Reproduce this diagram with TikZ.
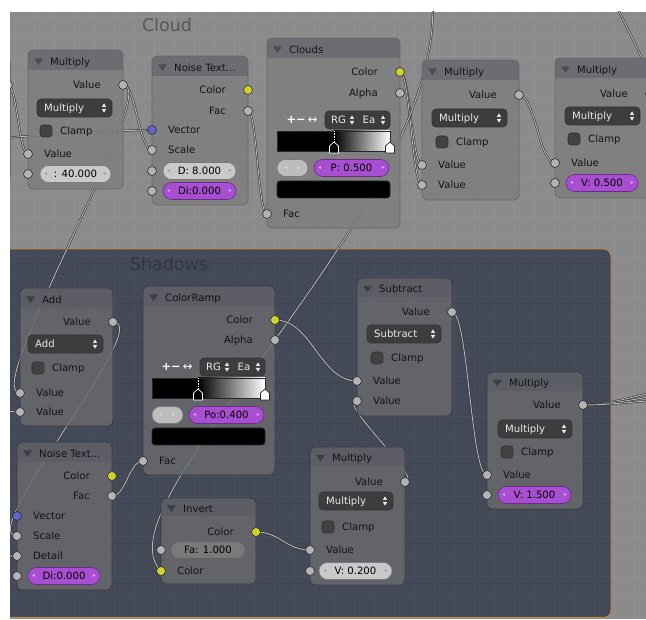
\documentclass[tikz,border=0pt]{standalone}
\usepackage{fontspec}
\setmainfont{DejaVu Sans}
\usetikzlibrary{fit,calc}
\pgfdeclarelayer{frames}
\pgfdeclarelayer{links}
\pgfsetlayers{frames,links,main}

\definecolor{cloudbg}{HTML}{8B8B8B}
\definecolor{cloudgrid}{HTML}{919191}
\definecolor{shadowbg}{HTML}{434956}
\definecolor{shadowgrid}{HTML}{49505C}
\definecolor{frameedge}{HTML}{BC8A4C}
\definecolor{cloudlabel}{HTML}{575757}
\definecolor{shadowlabel}{HTML}{323741}
\definecolor{cbody}{HTML}{7E7E7E}
\definecolor{chdr}{HTML}{6C6D73}
\definecolor{cedge}{HTML}{676767}
\definecolor{ctri}{HTML}{4D4D52}
\definecolor{sbody}{HTML}{6B6B6E}
\definecolor{shdr}{HTML}{5D5E65}
\definecolor{sedge}{HTML}{393C44}
\definecolor{stri}{HTML}{3E3F45}
\definecolor{ddfill}{HTML}{3D3D3D}
\definecolor{ddtextc}{HTML}{EAEAEA}
\definecolor{chkfill}{HTML}{424242}
\definecolor{fieldlight}{HTML}{C9C9C9}
\definecolor{fieldgray}{HTML}{BDBDBD}
\definecolor{fieldslide}{HTML}{7A7A7C}
\definecolor{fieldpurple}{HTML}{A84ED0}
\definecolor{purpleedge}{HTML}{6A2C88}
\definecolor{sockgray}{HTML}{B3B3B3}
\definecolor{sockyellow}{HTML}{D0D02C}
\definecolor{sockblue}{HTML}{6363CA}
\definecolor{sockedge}{HTML}{2E2E2E}
\definecolor{linkdark}{HTML}{323232}
\definecolor{linklight}{HTML}{B8B8B8}
\definecolor{labeltext}{HTML}{131313}

\tikzset{
  lbl/.style={inner sep=0pt, text height=7.2pt, text depth=0pt,
    font=\fontsize{10.1}{12}\selectfont},
  ntext/.style={lbl, text=labeltext},
  ddtext/.style={lbl, text=ddtextc},
  ftext/.style={lbl, text=black},
  farrowL/.style={inner sep=0pt, font=\fontsize{6}{7}\selectfont, text=black!38},
  farrowP/.style={inner sep=0pt, font=\fontsize{6}{7}\selectfont, text=fieldpurple!45!white},
  farrowG/.style={inner sep=0pt, font=\fontsize{6}{7}\selectfont, text=white!85!black},
  fieldL/.style={fill=fieldlight, draw=black!52, line width=.6pt, rounded corners=8.5pt},
  fieldP/.style={fill=fieldpurple, draw=purpleedge, line width=.6pt, rounded corners=8.5pt},
  fieldG/.style={fill=fieldgray, draw=black!52, line width=.6pt, rounded corners=8.5pt},
  fieldS/.style={fill=fieldslide, draw=black!62, line width=.6pt, rounded corners=8.5pt},
  ddbox/.style={fill=ddfill, draw=black!80, line width=.6pt, rounded corners=4pt},
  ddsep/.style={draw=black!75, line width=.6pt},
  ddarrow/.style={fill=ddtextc},
  chk/.style={fill=chkfill, draw=black!80, line width=.6pt, rounded corners=3pt},
  baredge/.style={draw=black!85, line width=.6pt},
  swatch/.style={fill=black, draw=black!85, line width=.6pt, rounded corners=3pt},
  tooltext/.style={inner sep=0pt, text=white, font=\fontsize{11.5}{12}\selectfont},
  sock/.style={circle, draw=sockedge, line width=.6pt, minimum size=9pt, inner sep=0pt},
  framelabel/.style={inner sep=0pt, text height=12.8pt, text depth=0pt,
    font=\fontsize{17.5}{20}\selectfont},
  link/.style={draw=linkdark, line width=.55pt, double=linklight, double distance=.9pt},
  nbody/.style={fill=cbody, fill opacity=.8},
  nedge/.style={draw=cedge, line width=.8pt},
  nhdr/.style={fill=chdr},
  ntri/.style={fill=ctri},
}

% node frame: name, x1, y1, x2, y2, header bottom, title
\newcommand\bnode[7]{%
  \node[fit={(#2,#3)(#4,#5)}, inner sep=0pt] (#1) {};
  \path[nbody, rounded corners=5pt] (#2,#3) rectangle (#4,#5);
  \begin{scope}
    \clip[rounded corners=5pt] (#2,#3) rectangle (#4,#5);
    \fill[nhdr] (#2,#3) rectangle (#4,#6);
  \end{scope}
  \draw[nedge, rounded corners=5pt] (#2,#3) rectangle (#4,#5);
  \fill[ntri] ({#2+6},{(#3+#6)/2-1.5}) -- ({#2+15},{(#3+#6)/2-1.5}) -- ({#2+10.5},{(#3+#6)/2+5}) -- cycle;
  \node[ntext, anchor=west] (#1-title) at ({#2+22},{(#3+#6)/2+1.5}) {#7};
}
\newcommand\sockat[4]{\node[sock, fill=#4] (#1) at (#2,#3) {};}
\newcommand\outrow[5]{\node[ntext, anchor=east] (#1-l) at ({#2-22},#3) {#4};\sockat{#1}{#2}{#3}{#5}}
\newcommand\inrow[5]{\node[ntext, anchor=west] (#1-l) at ({#2+16},#3) {#4};\sockat{#1}{#2}{#3}{#5}}
\newcommand\updown[2]{%
  \fill[ddarrow] ({#1-2.2},{#2-1}) -- ({#1+2.2},{#2-1}) -- (#1,{#2-4.6}) -- cycle;
  \fill[ddarrow] ({#1-2.2},{#2+1}) -- ({#1+2.2},{#2+1}) -- (#1,{#2+4.6}) -- cycle;}
% dropdown: name, x1, x2, y, text
\newcommand\ddown[5]{%
  \node[ddbox, fit={(#2,{#4-9})(#3,{#4+9})}, inner sep=0pt] (#1) {};
  \node[ddtext, anchor=west] (#1-l) at ({#2+7},#4) {#5};
  \updown{#3-8}{#4}}
% checkbox: name, x, y
\newcommand\clampbox[3]{%
  \node[chk, fit={(#2,{#3-6})({#2+12},{#3+6})}, inner sep=0pt] (#1) {};
  \node[ntext, anchor=west] (#1-l) at ({#2+20},#3) {Clamp};}
% number field: name, x1, x2, y, kind (L/P), text
\newcommand\nfield[6]{%
  \node[field#5, fit={(#2,{#4-8.5})(#3,{#4+8.5})}, inner sep=0pt] (#1) {};
  \node[ftext] (#1-l) at ({(#2+#3)/2},#4) {#6};
  \node[farrow#5, anchor=west] (#1-a) at ({#2+4},#4) {◂};
  \node[farrow#5, anchor=east] (#1-b) at ({#3-4},#4) {▸};}
% slider field: name, x1, x2, y, text
\newcommand\sfield[5]{%
  \node[fieldS, fit={(#2,{#4-8.5})(#3,{#4+8.5})}, inner sep=0pt] (#1) {};
  \node[ftext] (#1-l) at ({(#2+#3)/2},#4) {#5};}
% colour ramp block: name, x1, x2, toolbar y, stop x, position text
\newcommand\rampw[6]{%
  \node[tooltext] (#1-tools) at ({#2+25},#4) {\textbf{+}\textbf{−}\,↔};
  \node[ddbox, fit={({#2+48},{#4-9})(#3,{#4+9})}, inner sep=0pt] (#1-mode) {};
  \draw[ddsep] ({(#2+48+#3)/2},{#4-9}) -- ({(#2+48+#3)/2},{#4+9});
  \node[ddtext, anchor=west] (#1-rg) at ({#2+54},#4) {RG};
  \updown{#2+75}{#4}
  \node[ddtext, anchor=west] (#1-ea) at ({(#2+48+#3)/2+5},#4) {Ea};
  \updown{#3-7}{#4}
  \fill[black] (#2,{#4+11}) rectangle (#5,{#4+31});
  \shade[left color=black, right color=white] (#5,{#4+11}) rectangle (#3,{#4+31});
  \node[baredge, fit={(#2,{#4+11})(#3,{#4+31})}, inner sep=0pt] (#1-bar) {};
  \draw[white, densely dotted, line width=.6pt] (#5,{#4+11}) -- (#5,{#4+23});
  \draw[fill=black, draw=white, line width=.7pt] ({#5-4.5},{#4+33}) -- ({#5-4.5},{#4+26}) -- (#5,{#4+22}) -- ({#5+4.5},{#4+26}) -- ({#5+4.5},{#4+33}) -- cycle;
  \draw[fill=white, draw=black!85, line width=.7pt] ({#3-4.5},{#4+33}) -- ({#3-4.5},{#4+26}) -- (#3,{#4+22}) -- ({#3+4.5},{#4+26}) -- ({#3+4.5},{#4+33}) -- cycle;
  \node[fieldG, fit={(#2,{#4+39.5})({#2+31},{#4+56.5})}, inner sep=0pt] (#1-g) {};
  \node[farrowG] (#1-ga) at ({#2+9},{#4+48}) {◂};
  \node[farrowG] (#1-gb) at ({#2+22},{#4+48}) {▸};
  \nfield{#1-p}{#2+37}{#3-1}{#4+48}{P}{#6}
  \node[swatch, fit={(#2,{#4+61})(#3,{#4+78})}, inner sep=0pt] (#1-swatch) {};}

\begin{document}
\begin{tikzpicture}[x=1pt, y=-1pt]
\useasboundingbox (0,0) rectangle (646,620);

% ---------- editor background and frames ----------
\begin{pgfonlayer}{frames}
  \fill[white] (0,0) rectangle (646,620);
  \begin{scope}
    \clip (10,12) rectangle (646,619);
    \fill[cloudbg] (10,12) rectangle (646,619);
    \foreach \gx in {14,34,...,646} \draw[cloudgrid, line width=.5pt] (\gx,12) -- (\gx,619);
    \foreach \gy in {16,36,...,619} \draw[cloudgrid, line width=.5pt] (10,\gy) -- (646,\gy);
    \fill[shadowbg, rounded corners=7pt] (-20,249) rectangle (611,617.5);
    \begin{scope}
      \clip[rounded corners=7pt] (-20,249) rectangle (611,617.5);
      \foreach \gx in {14,34,...,646} \draw[shadowgrid, line width=.5pt] (\gx,249) -- (\gx,619);
      \foreach \gy in {256,276,...,619} \draw[shadowgrid, line width=.5pt] (10,\gy) -- (646,\gy);
    \end{scope}
    \draw[frameedge, line width=1pt, rounded corners=7pt] (-20,249) rectangle (611,617.5);
    \node[framelabel, text=cloudlabel] (cloudtitle) at (167,25) {Cloud};
    \node[framelabel, text=shadowlabel] (shadowtitle) at (169,264) {Shadows};
  \end{scope}
\end{pgfonlayer}

% ---------- nodes ----------
\begin{scope}
\clip (10,12) rectangle (646,619);

\coordinate (offb) at (-150,146);
\coordinate (offc) at (-30,407);
\coordinate (offd) at (-30,553);
\coordinate (offe) at (428,-30);
\coordinate (offf) at (590,-30);
\coordinate (offg) at (700,160);
\coordinate (offh1) at (720,380);
\coordinate (offh2) at (720,388);
\coordinate (offh3) at (720,396);

% Cloud frame
\begin{scope}
\bnode{offn}{-90}{57}{10.5}{181}{77}{}
\sockat{offa}{8}{85}{sockgray}

\bnode{m1}{28}{50}{123}{189}{70}{Multiply}
\outrow{m1vo}{123}{85}{Value}{sockgray}
\ddown{m1dd}{37}{112}{108}{Multiply}
\clampbox{m1cb}{40}{131}
\inrow{m1vi}{28}{154}{Value}{sockgray}
\nfield{m1f}{40}{111}{174}{L}{: 40.000}
\sockat{m1fs}{28}{174}{sockgray}

\bnode{n1}{152}{56}{248}{205}{76}{Noise Text...}
\outrow{n1col}{248}{90}{Color}{sockyellow}
\outrow{n1fac}{248}{111}{Fac}{sockgray}
\inrow{n1vec}{152}{130}{Vector}{sockblue}
\inrow{n1sc}{152}{150}{Scale}{sockgray}
\nfield{n1d}{163}{236}{171}{L}{D: 8.000}
\sockat{n1ds}{152}{171}{sockgray}
\nfield{n1di}{163}{236}{191}{P}{Di:0.000}
\sockat{n1dis}{152}{191}{sockgray}

\bnode{cl}{267}{38}{400}{228}{58}{Clouds}
\outrow{clcol}{400}{72}{Color}{sockyellow}
\outrow{clalp}{400}{93}{Alpha}{sockgray}
\rampw{clr}{277}{390}{120}{334}{P: 0.500}
\inrow{clfac}{267}{214}{Fac}{sockgray}

\bnode{m2}{422}{60}{519}{200}{80}{Multiply}
\outrow{m2o}{519}{95}{Value}{sockgray}
\ddown{m2dd}{432}{507}{118}{Multiply}
\clampbox{m2cb}{436}{142}
\inrow{m2a}{422}{165}{Value}{sockgray}
\inrow{m2b}{422}{185}{Value}{sockgray}

\bnode{m3}{555}{58}{650}{198}{78}{Multiply}
\outrow{m3o}{650}{94}{Value}{sockgray}
\ddown{m3dd}{565}{640}{116}{Multiply}
\clampbox{m3cb}{568}{139}
\inrow{m3a}{555}{163}{Value}{sockgray}
\nfield{m3f}{566}{638}{183}{P}{V: 0.500}
\sockat{m3fs}{555}{183}{sockgray}
\end{scope}

% Shadows frame
\begin{scope}[nbody/.style={fill=sbody, fill opacity=.82}, nedge/.style={draw=sedge, line width=.8pt},
  nhdr/.style={fill=shdr}, ntri/.style={fill=stri}]
\bnode{ad}{20}{288}{113}{426}{308}{Add}
\outrow{adout}{113}{322}{Value}{sockgray}
\ddown{addd}{28}{103}{344}{Add}
\clampbox{adcb}{32}{368}
\inrow{ad1}{20}{393}{Value}{sockgray}
\inrow{ad2}{20}{412}{Value}{sockgray}

\bnode{cr}{143}{286}{275}{475}{306}{ColorRamp}
\outrow{crcol}{275}{320}{Color}{sockyellow}
\outrow{cralp}{275}{340}{Alpha}{sockgray}
\rampw{crr}{152}{265}{367}{198}{Po:0.400}
\inrow{crfac}{143}{461}{Fac}{sockgray}

\bnode{sb}{357}{278}{452}{416}{297}{Subtract}
\outrow{sbo}{452}{312}{Value}{sockgray}
\ddown{sbdd}{367}{441}{334}{Subtract}
\clampbox{sbcb}{371}{358}
\inrow{sb1}{357}{381}{Value}{sockgray}
\inrow{sb2}{357}{401}{Value}{sockgray}

\bnode{m4}{487}{372}{583}{509}{391}{Multiply}
\outrow{m4o}{583}{405}{Value}{sockgray}
\ddown{m4dd}{498}{572}{429}{Multiply}
\clampbox{m4cb}{501}{452}
\inrow{m4a}{487}{475}{Value}{sockgray}
\nfield{m4f}{498}{571}{495}{P}{V: 1.500}
\sockat{m4fs}{487}{495}{sockgray}

\bnode{n2}{17}{442}{112}{590}{462}{Noise Text...}
\outrow{n2col}{112}{476}{Color}{sockyellow}
\outrow{n2fac}{112}{496}{Fac}{sockgray}
\inrow{n2vec}{17}{516}{Vector}{sockblue}
\inrow{n2sc}{17}{536}{Scale}{sockgray}
\inrow{n2det}{17}{556}{Detail}{sockgray}
\nfield{n2di}{28}{100}{576}{P}{Di:0.000}
\sockat{n2dis}{17}{576}{sockgray}

\bnode{iv}{161}{498}{256}{584}{516}{Invert}
\outrow{ivco}{256}{532}{Color}{sockyellow}
\sfield{ivfa}{171}{245}{550}{Fa: 1.000}
\sockat{ivfas}{161}{550}{sockgray}
\inrow{ivci}{161}{571}{Color}{sockyellow}

\bnode{m5}{310}{447}{405}{585}{466}{Multiply}
\outrow{m5o}{405}{482}{Value}{sockgray}
\ddown{m5dd}{319}{393}{501}{Multiply}
\clampbox{m5cb}{322}{527}
\inrow{m5a}{310}{550}{Value}{sockgray}
\nfield{m5f}{319}{392}{571}{L}{V: 0.200}
\sockat{m5fs}{310}{571}{sockgray}
\end{scope}
\end{scope}

% ---------- links (drawn beneath the nodes) ----------
\begin{pgfonlayer}{links}
\begin{scope}
\clip (10,12) rectangle (646,619);
\draw[link] (offa.center) .. controls +(9,0) and +(-9,0) .. (m1vi.center);
\draw[link] (offb) .. controls +(60,0) and +(-60,0) .. (n1vec.center);
\draw[link] (m1vo.center) .. controls +(13,0) and +(-13,0) .. (n1sc.center);
\draw[link] (m1vo.center) .. controls +(40,0) and +(-40,0) .. (ad1.center);
\draw[link] (n1fac.center) .. controls +(9,0) and +(-9,0) .. (clfac.center);
\draw[link] (clcol.center) .. controls +(10,0) and +(-10,0) .. (m2a.center);
\draw[link] (clcol.center) .. controls +(10,0) and +(-10,0) .. (m2b.center);
\draw[link] (m2o.center) .. controls +(16,0) and +(-16,0) .. (m3a.center);
\draw[link] (offe) .. controls (480,180) and (90,500) .. (ivci.center);
\draw[link] (offf) .. controls +(20,0) and +(-20,0) .. (offg);
\draw[link] (adout.center) .. controls +(43,0) and +(-43,0) .. (n2sc.center);
\draw[link] (offc) .. controls +(15,0) and +(-15,0) .. (ad2.center);
\draw[link] (offd) .. controls +(15,0) and +(-15,0) .. (n2det.center);
\draw[link] (n2fac.center) .. controls +(14,0) and +(-14,0) .. (crfac.center);
\draw[link] (crcol.center) .. controls +(37,0) and +(-37,0) .. (sb1.center);
\draw[link] (m5o.center) .. controls +(21,0) and +(-21,0) .. (sb2.center);
\draw[link] (sbo.center) .. controls +(16,0) and +(-16,0) .. (m4a.center);
\draw[link] (ivco.center) .. controls +(24,0) and +(-24,0) .. (m5a.center);
\foreach \t in {h1,h2,h3}
  \draw[link] (m4o.center) .. controls +(40,0) and +(-40,0) .. (off\t);
\end{scope}
\end{pgfonlayer}
\end{tikzpicture}
\end{document}
